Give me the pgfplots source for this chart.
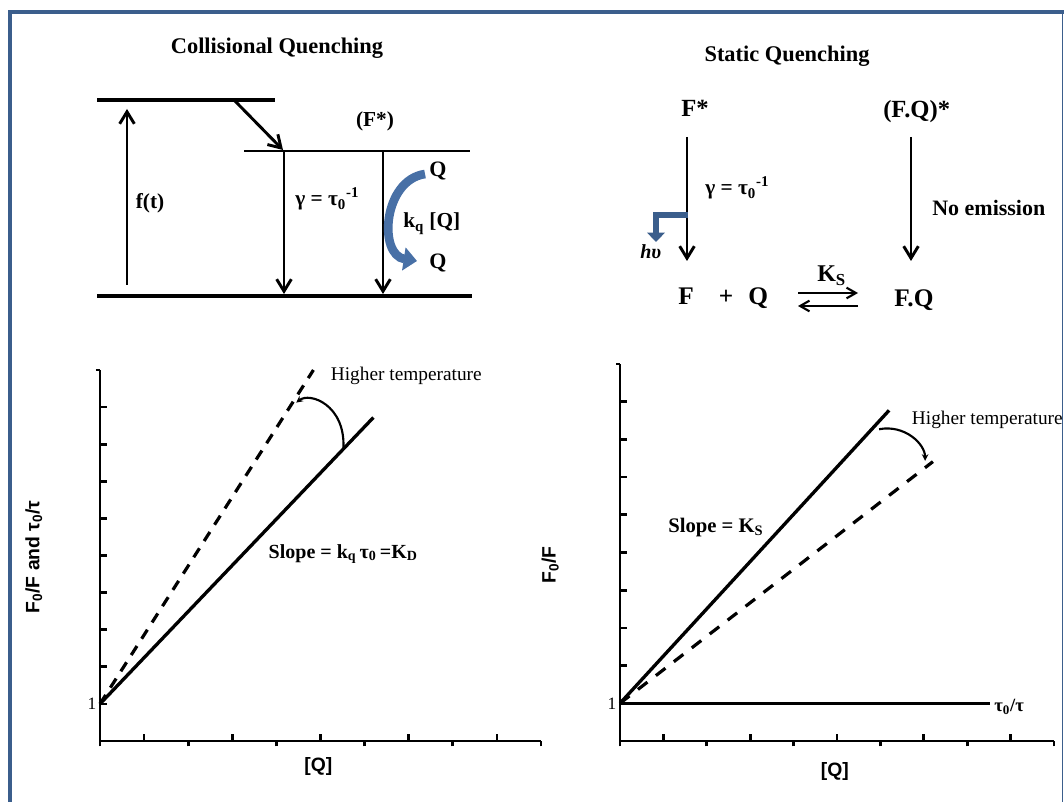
\documentclass[border=0pt]{standalone}
\usepackage{pgfplots}
\pgfplotsset{compat=1.18}
\usetikzlibrary{arrows.meta}
\usepackage{fontspec}
\setmainfont{Liberation Serif}
\setsansfont{Liberation Sans}
\definecolor{bordercol}{RGB}{59,94,140}
\definecolor{arrblue}{RGB}{72,112,166}
\newcommand{\fsz}[1]{\fontsize{#1}{#1}\selectfont}
\tikzset{arr/.style={line width=2.2pt, -{Straight Barb[length=9pt,width=11pt]}}}
\pgfplotsset{qplot/.style={
  scale only axis, xmin=0, xmax=10, ymin=0, ymax=10,
  axis x line*=bottom, axis y line*=left,
  axis line style={line width=2.2pt},
  xtick={1,3,5,7,9}, xticklabels={},
  extra x ticks={0,2,4,6,8,10}, extra x tick labels={},
  extra x tick style={tick align=outside, major tick length=4pt},
  ytick={1,2,...,9}, yticklabels={\textrm{1},{},{},{},{},{},{},{},{}},
  extra y ticks={10}, extra y tick labels={},
  extra y tick style={tick align=outside, major tick length=3pt},
  tick align=inside, major tick length=5.5pt,
  tick style={black, line width=2pt},
  yticklabel style={font=\fsz{13}, inner sep=2.5pt},
  clip=false,
  xlabel style={font=\sffamily\bfseries\fsz{14.5}, anchor=center},
  ylabel style={font=\sffamily\bfseries\fsz{14.5}, anchor=center},
}}
\begin{document}
\begin{tikzpicture}
\useasboundingbox (0,0) rectangle (798pt,601.5pt);
% ---------- canvas (pixel coordinates) ----------
\begin{axis}[at={(0pt,0pt)}, anchor=south west, scale only axis,
  width=798pt, height=601.5pt, xmin=0, xmax=1064, ymin=0, ymax=802,
  y dir=reverse, hide axis, clip=false]
% frame
\draw[bordercol, line width=3pt] (10,802) -- (10,12) -- (1064,12);
\draw[bordercol, line width=1.2pt] (1062.5,12) -- (1062.5,802);
% ===== Collisional quenching =====
\node[anchor=base, font=\bfseries\fsz{16.8}, inner sep=0pt] at (277,54) {Collisional Quenching};
\draw[line width=3pt] (97,100) -- (275,100);
\draw[line width=1.7pt] (244,151) -- (470,151);
\draw[line width=3.3pt] (97,296) -- (472,296);
\draw[arr] (127,285) -- (127,109);
\draw[arr] (235,101) -- (283,150);
\draw[arr] (284,151) -- (284,294);
\draw[arr] (383,151) -- (383,294);
\node[anchor=base, font=\bfseries\fsz{16}, inner sep=0pt] at (150,209) {f(t)};
\node[anchor=base west, font=\bfseries\fsz{16}, inner sep=0pt] at (295,206) {γ = τ\textsubscript{0}\textsuperscript{-1}};
\node[anchor=base, font=\bfseries\fsz{16}, inner sep=0pt] at (375,127) {(F*)};
\node[anchor=base, font=\bfseries\fsz{16.5}, inner sep=0pt] at (438,177) {Q};
\node[anchor=base, font=\bfseries\fsz{16.5}, inner sep=0pt] at (438,269) {Q};
\node[anchor=base west, font=\bfseries\fsz{16}, inner sep=0pt] at (403,228) {k\textsubscript{q} [Q]};
\draw[arrblue, line width=6.5pt, -{Triangle[length=10pt,width=17pt]}] (425,174) .. controls (383,180) and (378,255) .. (417,261);
% ===== Static quenching =====
\node[anchor=base, font=\bfseries\fsz{16.8}, inner sep=0pt] at (787,62) {Static Quenching};
\node[anchor=base west, font=\bfseries\fsz{18.5}, inner sep=0pt] at (681,117) {F*};
\node[anchor=base west, font=\bfseries\fsz{18.5}, inner sep=0pt] at (883,118) {(F.Q)*};
\draw[arr] (687,137) -- (687,261);
\draw[arr] (911,137) -- (911,261);
\node[anchor=base west, font=\bfseries\fsz{16}, inner sep=0pt] at (705,195) {γ = τ\textsubscript{0}\textsuperscript{-1}};
\node[anchor=base west, font=\bfseries\fsz{16.5}, inner sep=0pt] at (932,216) {No emission};
\draw[bordercol, line width=4.5pt, -{Triangle[length=7pt,width=13pt]}] (688,215) -| (656,242);
\node[anchor=base west, font=\bfseries\itshape\fsz{15}, inner sep=0pt] at (640,259) {hυ};
\node[anchor=base west, font=\bfseries\fsz{19}, inner sep=0pt] at (678,305) {F};
\node[anchor=base, font=\bfseries\fsz{19}, inner sep=0pt] at (726,305) {+};
\node[anchor=base west, font=\bfseries\fsz{19}, inner sep=0pt] at (748,305) {Q};
\node[anchor=base west, font=\bfseries\fsz{19}, inner sep=0pt] at (894,306) {F.Q};
\node[anchor=base west, font=\bfseries\fsz{18}, inner sep=0pt] at (817,282) {K\textsubscript{S}};
\draw[line width=1.6pt, -{Straight Barb[length=7pt,width=8pt]}] (798,293) -- (858,293);
\draw[line width=1.6pt, -{Straight Barb[length=7pt,width=8pt]}] (858,306) -- (798,306);
\end{axis}
% ---------- left plot ----------
\begin{axis}[qplot, at={(75pt,45.75pt)}, anchor=south west, width=330.75pt, height=278.25pt,
  xlabel={[Q]}, ylabel={F\textsubscript{0}/F and τ\textsubscript{0}/τ},
  xlabel style={at={(axis description cs:0.495,-0.07)}},
  ylabel style={at={(axis description cs:-0.15,0.496)}}]
\addplot[black, line width=2.5pt] coordinates {(0,1) (6.2,8.72)};
\addplot[black, line width=2.4pt, dash pattern=on 8pt off 6.5pt] coordinates {(0,1) (4.84,10)};
\draw[line width=1.6pt, -{Stealth[length=5pt,width=5pt]}] (axis cs:5.52,7.91) .. controls (axis cs:5.56,9.06) and (axis cs:4.76,9.41) .. (axis cs:4.45,9.12);
\node[anchor=base west, font=\fsz{14.5}, inner sep=0pt] at (axis cs:5.23,9.71) {Higher temperature};
\node[anchor=base west, font=\bfseries\fsz{15}, inner sep=0pt] at (axis cs:3.82,4.93) {Slope = k\textsubscript{q}\,τ\textsubscript{0}\,=K\textsubscript{D}};
\end{axis}
% ---------- right plot ----------
\begin{axis}[qplot, at={(465pt,45.75pt)}, anchor=south west, width=325.5pt, height=282.75pt,
  xlabel={[Q]}, ylabel={F\textsubscript{0}/F},
  xlabel style={at={(axis description cs:0.495,-0.082)}},
  ylabel style={at={(axis description cs:-0.161,0.467)}}]
\addplot[black, line width=2.5pt] coordinates {(0,1) (6.2,8.77)};
\addplot[black, line width=2.4pt, dash pattern=on 9pt off 8pt] coordinates {(0,1) (7.21,7.41)};
\addplot[black, line width=2.5pt] coordinates {(0,1) (8.53,1)};
\draw[line width=1.6pt, -{Stealth[length=5pt,width=5pt]}] (axis cs:5.97,8.27) .. controls (axis cs:6.57,8.40) and (axis cs:7.03,7.87) .. (axis cs:7.03,7.43);
\node[anchor=base west, font=\fsz{14.5}, inner sep=0pt] at (axis cs:6.72,8.40) {Higher temperature};
\node[anchor=base west, font=\bfseries\fsz{15.5}, inner sep=0pt] at (axis cs:1.106,5.52) {Slope = K\textsubscript{S}};
\node[anchor=base west, font=\bfseries\fsz{14}, inner sep=0pt] at (axis cs:8.62,0.78) {τ\textsubscript{0}/τ};
\end{axis}
\end{tikzpicture}
\end{document}
